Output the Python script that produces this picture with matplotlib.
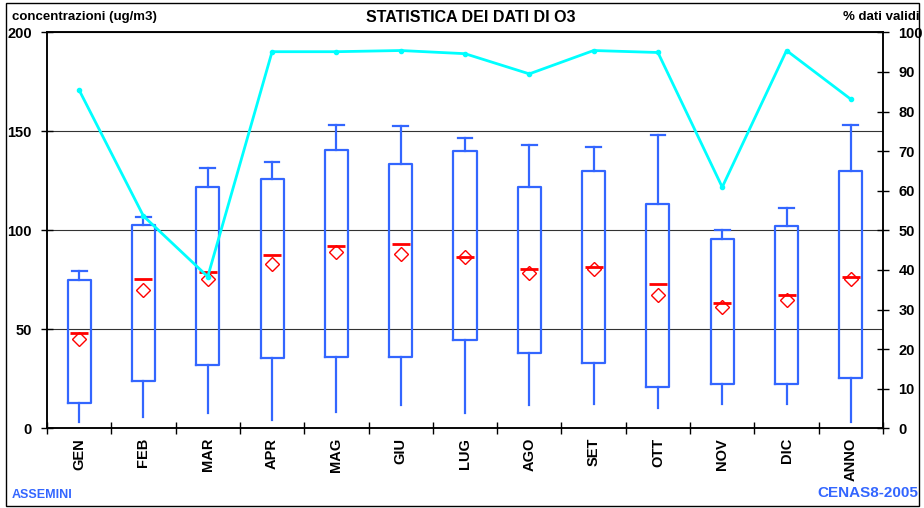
import numpy as np
import matplotlib
matplotlib.use('Agg')
import matplotlib.pyplot as plt
from matplotlib.patches import Rectangle

mesi = ['GEN', 'FEB', 'MAR', 'APR', 'MAG', 'GIU', 'LUG', 'AGO', 'SET', 'OTT', 'NOV', 'DIC', 'ANNO']
minimo = [3.3, 5.6, 7.6, 4.2, 8.4, 11.8, 7.6, 11.8, 12.3, 10.1, 12.3, 12.3, 3.0]
q1 = [12.6, 23.9, 32.0, 35.7, 36.2, 36.2, 44.6, 37.9, 33.1, 21.0, 22.2, 22.2, 25.6]
mediana = [48.0, 75.3, 79.0, 87.5, 92.2, 92.9, 86.4, 80.3, 81.6, 72.9, 63.3, 67.5, 76.6]
media = [44.9, 69.8, 75.3, 83.0, 88.9, 87.9, 86.7, 78.3, 80.6, 67.3, 61.1, 64.8, 75.3]
q3 = [74.9, 102.7, 122.0, 126.1, 140.6, 133.3, 140.0, 121.7, 130.1, 113.3, 95.8, 102.3, 130.1]
massimo = [79.6, 106.6, 131.5, 134.3, 153.2, 152.5, 146.5, 142.9, 142.0, 148.1, 100.2, 111.1, 153.2]
validi = [85.4, 53.6, 38.3, 95.1, 95.1, 95.4, 94.6, 89.5, 95.4, 94.9, 60.9, 95.4, 83.1]

plt.rcParams['font.family'] = ['Liberation Sans', 'DejaVu Sans']
plt.rcParams['font.weight'] = 'bold'

blu = '#3366FF'
W, H = 924, 508
fig = plt.figure(figsize=(W / 100, H / 100), dpi=100)
ax = fig.add_axes([47 / W, 1 - 428.3 / H, 836 / W, 396 / H])

x = np.arange(1, len(mesi) + 1)
stats = [dict(med=mediana[i], q1=q1[i], q3=q3[i], whislo=minimo[i], whishi=massimo[i], fliers=[])
         for i in range(len(mesi))]
bp = ax.bxp(stats, positions=x, widths=0.36, capwidths=0.23, showfliers=False,
            boxprops=dict(color=blu, lw=1.6), whiskerprops=dict(color=blu, lw=1.6),
            capprops=dict(color=blu, lw=1.6), medianprops=dict(visible=False))
# solo il cappuccio superiore
for cap in bp['caps'][0::2]:
    cap.set_visible(False)
ax.plot(x, media, ls='none', marker='D', ms=7, mfc='none', mec='red', mew=1)
ax.plot(x, mediana, ls='none', marker='_', ms=13, mew=2, color='red')

ax.set_xlim(0.5, len(mesi) + 0.5)
ax.set_ylim(0, 200)
ax.set_yticks(range(0, 201, 50))
ax.grid(axis='y', color='#333333', lw=0.8)
ax.set_axisbelow(True)
ax.set_xticks(x)
ax.set_xticklabels(mesi, rotation=90, fontsize=10.5, fontweight='bold')
ax.set_xticks(np.arange(0.5, len(mesi) + 1, 1), minor=True)
ax.tick_params(axis='x', which='major', length=0, pad=7)
ax.tick_params(axis='x', which='minor', length=8, direction='inout', width=1)
ax.tick_params(axis='y', length=8, direction='inout', width=1, labelsize=10.5, pad=7)
for s in ax.spines.values():
    s.set_linewidth(1.1)

ax2 = ax.twinx()
ax2.plot(x, validi, color='#00FFFF', lw=2, marker='o', ms=3)
ax2.set_ylim(0, 100)
ax2.set_yticks(range(0, 101, 10))
ax2.tick_params(axis='y', length=8, direction='inout', width=1, labelsize=10.5, pad=7)
for s in ax2.spines.values():
    s.set_linewidth(1.1)

fig.text(12 / W, 1 - 17 / H, 'concentrazioni (ug/m3)', fontsize=9.5, fontweight='bold', va='center', ha='left')
fig.text(471 / W, 1 - 18 / H, 'STATISTICA DEI DATI DI O3', fontsize=11.5, fontweight='bold', va='center', ha='center')
fig.text(920 / W, 1 - 17 / H, '% dati validi', fontsize=9.5, fontweight='bold', va='center', ha='right')
fig.text(12 / W, 1 - 495 / H, 'ASSEMINI', fontsize=9, fontweight='bold', color=blu, va='center', ha='left')
fig.text(918 / W, 1 - 493 / H, 'CENAS8-2005', fontsize=11, fontweight='bold', color=blu, va='center', ha='right')

fig.patches.append(Rectangle((6 / W, 2 / H), 913 / W, 503 / H, transform=fig.transFigure,
                             fill=False, ec='black', lw=1))

fig.savefig('out.png', dpi=100)
